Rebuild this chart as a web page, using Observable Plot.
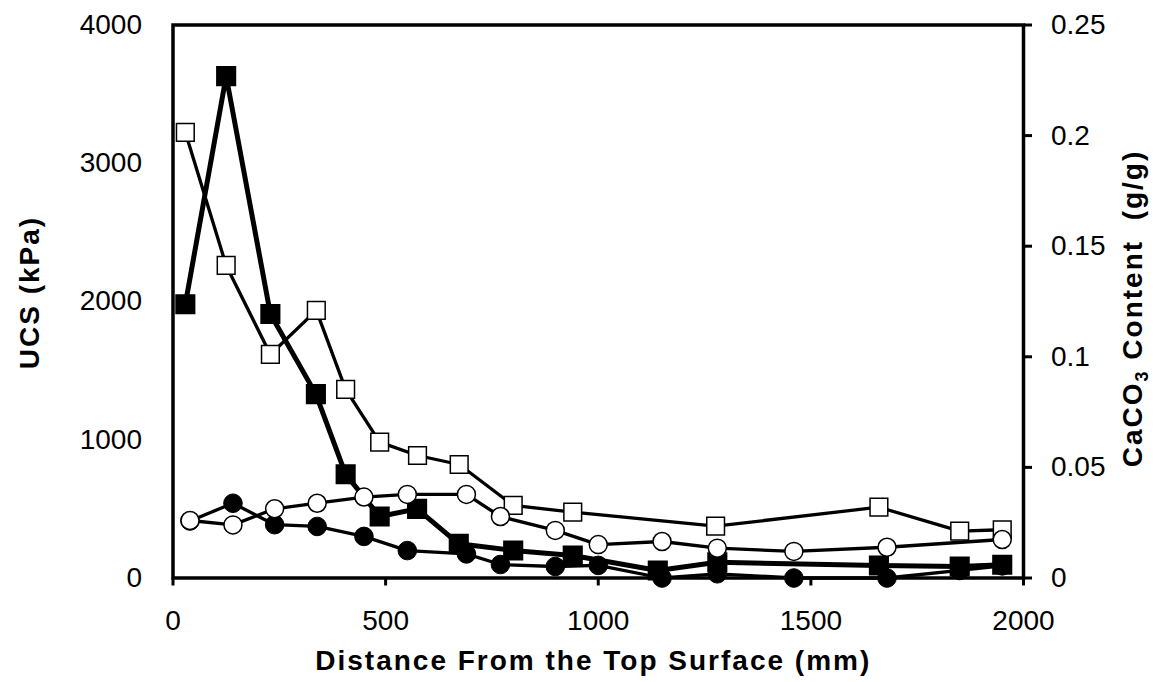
<!DOCTYPE html>
<html><head><meta charset="utf-8">
<script src="https://cdn.jsdelivr.net/npm/d3@7"></script>
<script src="https://cdn.jsdelivr.net/npm/@observablehq/plot@0.6"></script>
<style>
body{margin:0;background:#fff;}
#chart svg{display:block;}
</style></head><body><div id="chart"></div>
<script>
// Axis ticks
const distanceTicks = [0, 500, 1000, 1500, 2000];
const ucsTicks = [0, 1000, 2000, 3000, 4000];
const caco3Ticks = [0, 0.05, 0.1, 0.15, 0.2, 0.25];
const caco3TickLabels = ["0", "0.05", "0.1", "0.15", "0.2", "0.25"];

// Titles
const xTitle = "Distance From the Top Surface (mm)";
const yLeftTitle = "UCS (kPa)";
const yRightTitle = "CaCO3 Content  (g/g)";

// UCS series, filled squares (kPa)
const ucsFilledDistance = [29, 125, 229, 336, 406, 486, 574, 672, 800, 940, 1140, 1280, 1660, 1850, 1950];
const ucsFilled = [1980, 3630, 1910, 1330, 750, 445, 500, 247, 199, 163, 54, 114, 90, 83, 96];

// UCS series, open squares (kPa)
const ucsOpenDistance = [29, 125, 229, 337, 406, 486, 575, 673, 800, 940, 1276, 1660, 1850, 1950];
const ucsOpen = [3224, 2261, 1617, 1936, 1364, 983, 886, 821, 525, 476, 375, 512, 339, 349];

// CaCO3 series, filled circles (g/g)
const caco3FilledDistance = [40, 141, 239, 339, 449, 551, 690, 770, 899, 1000, 1150, 1280, 1460, 1679, 1850, 1950];
const caco3Filled = [0.0258, 0.0338, 0.0241, 0.0233, 0.0188, 0.0124, 0.0109, 0.0061, 0.0052, 0.0057, 0, 0.0019, 0, 0, 0.0034, 0.0055];

// CaCO3 series, open circles (g/g)
const caco3OpenDistance = [40, 141, 239, 339, 449, 551, 690, 770, 899, 1000, 1150, 1280, 1460, 1679, 1950];
const caco3Open = [0.026, 0.024, 0.0313, 0.0338, 0.0366, 0.0378, 0.0378, 0.0278, 0.0215, 0.0151, 0.0165, 0.0135, 0.012, 0.0139, 0.0174];

// secondary axis: CaCO3 mapped onto UCS scale
const ratio = ucsTicks[ucsTicks.length - 1] / caco3Ticks[caco3Ticks.length - 1];

const sqFilled = ucsFilledDistance.map((d, i) => ({x: d, y: ucsFilled[i]}));
const sqOpen = ucsOpenDistance.map((d, i) => ({x: d, y: ucsOpen[i]}));
const ciFilled = caco3FilledDistance.map((d, i) => ({x: d, y: caco3Filled[i] * ratio}));
const ciOpen = caco3OpenDistance.map((d, i) => ({x: d, y: caco3Open[i] * ratio}));

const rightTickLabel = d => {
  const k = caco3Ticks.findIndex(v => Math.abs(v * ratio - d) < 1e-6);
  return k >= 0 ? caco3TickLabels[k] : "";
};

const chart = Plot.plot({
  width: 1164,
  height: 682,
  marginLeft: 172.5,
  marginRight: 141,
  marginTop: 24.5,
  marginBottom: 104.5,
  style: {fontFamily: "'Liberation Sans', Arial, sans-serif", fontSize: "28px", color: "black", background: "white", overflow: "visible"},
  x: {domain: [distanceTicks[0], distanceTicks[distanceTicks.length - 1]]},
  y: {domain: [ucsTicks[0], ucsTicks[ucsTicks.length - 1]]},
  marks: [
    Plot.axisX({ticks: distanceTicks, tickSize: 8, tickPadding: 24, tickFormat: d => String(d), label: null, strokeWidth: 3}),
    Plot.axisY({ticks: ucsTicks, anchor: "left", tickSize: 0, tickPadding: 31, tickFormat: d => String(d), label: null}),
    Plot.axisY({ticks: caco3Ticks.map(v => v * ratio), anchor: "right", tickSize: 8, tickPadding: 19.5, tickFormat: rightTickLabel, label: null, strokeWidth: 3}),
    Plot.frame({stroke: "black", strokeWidth: 3.5}),

    Plot.line(sqFilled, {x: "x", y: "y", stroke: "black", strokeWidth: 5}),
    Plot.dot(sqFilled, {x: "x", y: "y", symbol: "square", r: 10.5, fill: "black", stroke: "black", strokeWidth: 1.5}),

    Plot.line(sqOpen, {x: "x", y: "y", stroke: "black", strokeWidth: 3.3}),
    Plot.dot(sqOpen, {x: "x", y: "y", symbol: "square", r: 10, fill: "white", stroke: "black", strokeWidth: 1.5}),

    Plot.line(ciFilled, {x: "x", y: "y", stroke: "black", strokeWidth: 3.3}),
    Plot.dot(ciFilled, {x: "x", y: "y", symbol: "circle", r: 9.3, fill: "black", stroke: "black", strokeWidth: 1}),

    Plot.line(ciOpen, {x: "x", y: "y", stroke: "black", strokeWidth: 3.3}),
    Plot.dot(ciOpen, {x: "x", y: "y", symbol: "circle", r: 9, fill: "white", stroke: "black", strokeWidth: 1.5}),

    Plot.text([xTitle], {text: d => d, frameAnchor: "bottom", dx: -5, dy: 83.5, textAnchor: "middle", lineAnchor: "middle", fontWeight: "bold", fontSize: 28, fill: "black"}),
    Plot.text([yLeftTitle], {text: d => d, frameAnchor: "left", rotate: -90, dx: -143, dy: -9, textAnchor: "middle", lineAnchor: "middle", fontWeight: "bold", fontSize: 28, fill: "black"}),
    Plot.text([yRightTitle], {text: d => d, frameAnchor: "right", rotate: -90, dx: 110, dy: 7, textAnchor: "middle", lineAnchor: "middle", fontWeight: "bold", fontSize: 28, fill: "black"})
  ]
});

const svg = d3.select(chart);
svg.selectAll("text").filter(function () { return this.textContent === xTitle || this.textContent === yLeftTitle; })
  .style("letter-spacing", "2px");
svg.selectAll("text").filter(function () { return this.textContent === yRightTitle; })
  .each(function () {
    const t = d3.select(this);
    t.style("letter-spacing", "2px").style("white-space", "pre");
    t.text(null);
    t.append("tspan").text("CaCO");
    t.append("tspan").text("3").attr("font-size", 18).attr("dy", 6);
    t.append("tspan").text(" Content  (g/g)").attr("dy", -6);
  });

document.getElementById("chart").appendChild(chart);
</script>
</body></html>
